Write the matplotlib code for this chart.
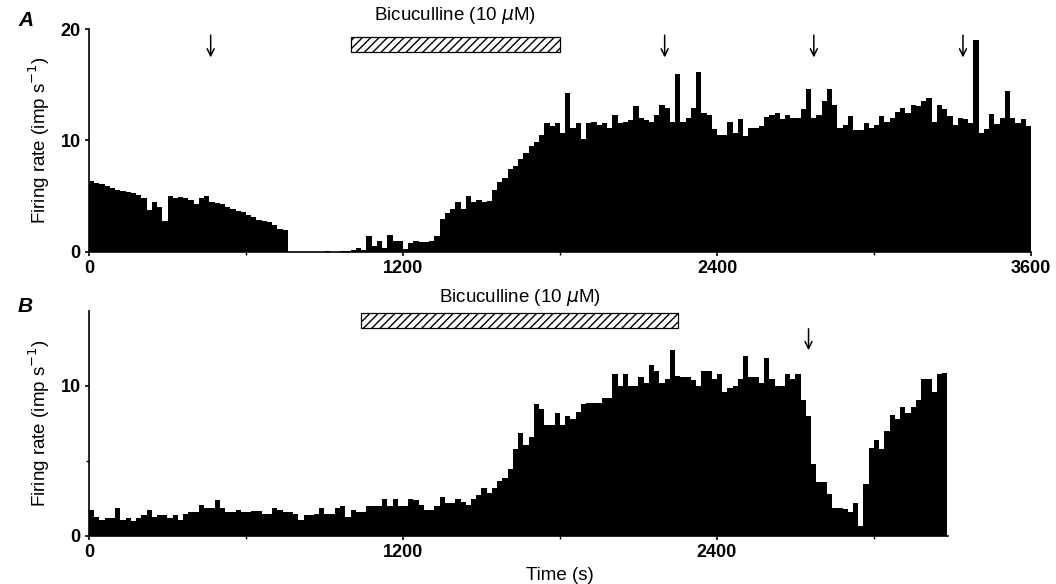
import matplotlib.pyplot as plt
import numpy as np
from matplotlib.patches import Rectangle

plt.rcParams["font.family"] = ["Liberation Sans", "DejaVu Sans"]

# firing rate histograms, 20 s bins starting at t = 0
BIN_S = 20

rate_a = [
    6.4, 6.2, 6.1, 5.9, 5.7, 5.6, 5.5, 5.4, 5.3, 5.1,
    4.8, 3.8, 4.5, 4.0, 2.8, 5.0, 4.8, 4.9, 4.8, 4.7,
    4.3, 4.8, 5.0, 4.5, 4.4, 4.3, 4.0, 3.9, 3.7, 3.6,
    3.3, 3.1, 2.9, 2.8, 2.7, 2.4, 2.1, 2.0, 0.0, 0.0,
    0.0, 0.0, 0.0, 0.0, 0.0, 0.1, 0.0, 0.0, 0.1, 0.1,
    0.2, 0.4, 0.2, 1.4, 0.5, 1.0, 0.4, 1.5, 1.0, 1.0,
    0.3, 0.8, 1.0, 0.9, 0.9, 1.0, 1.4, 3.0, 3.5, 3.9,
    4.5, 3.9, 5.0, 4.5, 4.7, 4.5, 4.6, 5.6, 6.3, 6.6,
    7.4, 7.7, 8.3, 8.9, 9.5, 9.9, 10.5, 11.6, 11.3, 11.6,
    10.7, 14.3, 11.1, 11.6, 10.1, 11.6, 11.7, 11.4, 11.6, 11.1,
    12.3, 11.6, 11.7, 11.8, 13.1, 12.0, 11.8, 11.7, 12.3, 13.2,
    12.9, 11.7, 16.0, 11.7, 12.0, 12.9, 16.1, 12.5, 12.3, 11.0,
    10.5, 10.5, 11.7, 10.7, 11.9, 10.4, 11.1, 11.1, 11.3, 12.1,
    12.3, 12.5, 11.9, 12.3, 12.0, 12.0, 12.8, 14.6, 12.0, 12.3,
    13.5, 14.6, 13.2, 11.1, 11.4, 12.2, 10.9, 10.9, 11.6, 11.1,
    11.4, 12.2, 11.7, 12.0, 12.6, 12.9, 12.5, 13.2, 13.1, 13.5,
    13.8, 11.7, 13.2, 12.8, 12.2, 11.4, 12.0, 11.9, 11.6, 19.0,
    10.7, 11.0, 12.4, 11.5, 12.0, 14.4, 12.0, 11.6, 11.9, 11.3,
]

rate_b = [
    1.75, 1.3, 1.1, 1.2, 1.2, 1.9, 1.1, 1.2, 1.0, 1.2,
    1.4, 1.75, 1.3, 1.4, 1.4, 1.2, 1.4, 1.1, 1.5, 1.6,
    1.6, 2.1, 1.9, 1.9, 2.4, 1.9, 1.6, 1.6, 1.75, 1.6,
    1.6, 1.7, 1.7, 1.5, 1.5, 1.9, 1.75, 1.6, 1.6, 1.5,
    1.1, 1.4, 1.4, 1.5, 1.9, 1.5, 1.5, 1.9, 2.0, 1.3,
    1.75, 1.6, 1.6, 2.0, 2.0, 2.0, 2.5, 2.0, 2.5, 2.0,
    2.0, 2.5, 2.4, 2.1, 1.75, 1.75, 2.0, 2.6, 2.2, 2.2,
    2.5, 2.3, 2.1, 2.5, 2.75, 3.2, 2.9, 3.2, 3.65, 3.9,
    4.5, 5.8, 6.9, 6.1, 6.6, 8.8, 8.5, 7.4, 7.4, 8.2,
    7.4, 8.0, 7.8, 8.3, 8.8, 8.9, 8.9, 8.9, 9.2, 9.2,
    10.8, 10.0, 10.8, 10.0, 10.0, 10.6, 10.2, 11.4, 11.0, 10.2,
    10.5, 12.4, 10.7, 10.6, 10.6, 10.4, 10.0, 11.0, 11.0, 10.5,
    10.8, 9.6, 9.9, 10.0, 10.5, 12.0, 10.6, 10.6, 10.2, 11.9,
    10.5, 10.0, 10.0, 10.8, 10.5, 10.8, 9.1, 8.0, 4.8, 3.6,
    3.6, 2.8, 1.9, 1.9, 1.8, 1.6, 2.2, 0.7, 3.5, 5.9,
    6.4, 5.8, 7.0, 8.1, 7.8, 8.6, 8.2, 8.6, 9.1, 10.5,
    10.5, 9.6, 10.8, 10.9,
]

drug_label = r"Bicuculline (10 $\mu$M)"
drug_a = (1000, 1800)
drug_b = (1040, 2250)
arrows_a = [465, 2200, 2770, 3340]
arrows_b = [2750]


def draw_panel(ax, rates, xmax, ymax, drug, bar_y, text_y, arrows, arrow_y):
    edges = np.arange(len(rates) + 1) * BIN_S
    ax.stairs(rates, edges, fill=True, color="black", linewidth=0)
    ax.set_xlim(0, xmax)
    ax.set_ylim(0, ymax)

    for side in ("top", "right"):
        ax.spines[side].set_visible(False)
    for side in ("left", "bottom"):
        ax.spines[side].set_linewidth(1.2)

    ax.add_patch(Rectangle((drug[0], bar_y[0]), drug[1] - drug[0], bar_y[1] - bar_y[0],
                           facecolor="white", edgecolor="black", hatch="////",
                           linewidth=0.9, clip_on=False))
    ax.text((drug[0] + drug[1]) / 2, text_y, drug_label, ha="center", va="center",
            fontsize=13.5, clip_on=False)

    for t in arrows:
        ax.annotate("", xy=(t, arrow_y[1]), xytext=(t, arrow_y[0]),
                    arrowprops=dict(arrowstyle="->,head_length=0.5,head_width=0.25",
                                    color="black", lw=1.1),
                    annotation_clip=False)

    ax.set_ylabel("Firing rate (imp s$^{-1}$)", fontsize=13.5, labelpad=6)
    ax.tick_params(which="major", direction="out", length=3, width=1.2,
                   labelsize=13, pad=3)
    ax.tick_params(which="minor", direction="out", length=2, width=1.0)


fig = plt.figure(figsize=(10.56, 5.84), dpi=100)

ax_a = fig.add_axes([89 / 1056, 1 - 252 / 584, 942 / 1056, 223 / 584])
draw_panel(ax_a, rate_a, 3600, 20, drug_a, (17.9, 19.3), 21.2,
           arrows_a, (19.7, 17.2))
ax_a.set_xticks([0, 1200, 2400, 3600])
ax_a.set_xticks([600, 1800, 3000], minor=True)
ax_a.set_yticks([0, 10, 20])
plt.setp(ax_a.get_xticklabels() + ax_a.get_yticklabels(), fontweight="bold")

ax_b = fig.add_axes([89 / 1056, 1 - 536 / 584, 859 / 1056, 225 / 584])
draw_panel(ax_b, rate_b, 3283, 15, drug_b, (13.85, 14.9), 15.9,
           arrows_b, (14.0, 12.2))
ax_b.set_xticks([0, 1200, 2400])
ax_b.set_xticks([600, 1800, 3000], minor=True)
ax_b.set_yticks([0, 10])
ax_b.set_yticks([5], minor=True)
plt.setp(ax_b.get_xticklabels() + ax_b.get_yticklabels(), fontweight="bold")

fig.text(560 / 1056, 1 - 575 / 584, "Time (s)", fontsize=13.5,
         ha="center", va="center")
fig.text(18 / 1056, 1 - 20 / 584, "A", fontsize=15, fontweight="bold",
         fontstyle="italic", ha="left", va="center")
fig.text(18 / 1056, 1 - 307 / 584, "B", fontsize=15, fontweight="bold",
         fontstyle="italic", ha="left", va="center")

fig.savefig("out.png", dpi=100)
